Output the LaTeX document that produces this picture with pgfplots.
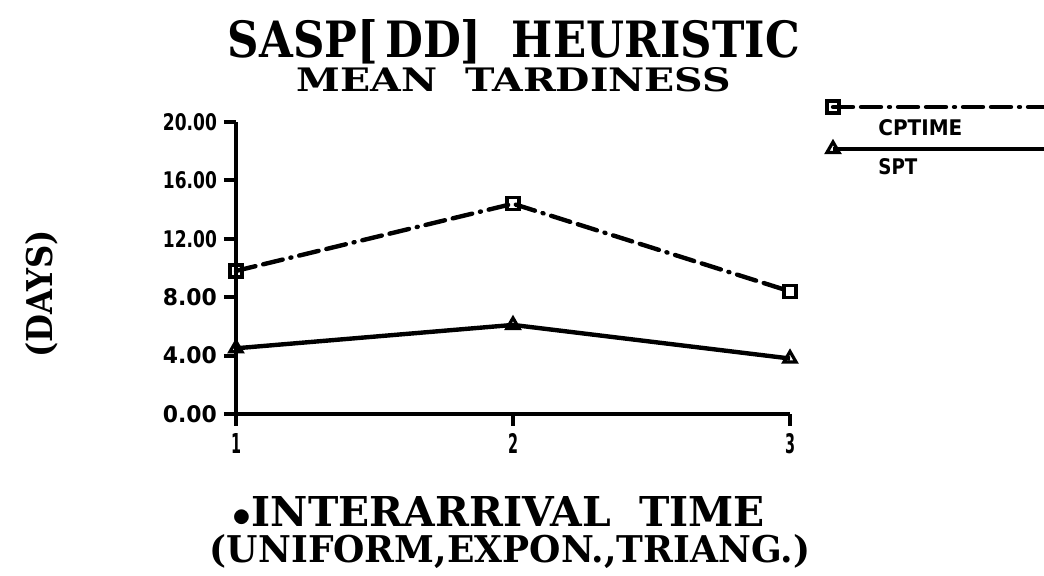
\documentclass[border=0pt]{standalone}
\usepackage{fontspec}
\usepackage{graphicx}
\usepackage{pgfplots}
\pgfplotsset{compat=1.18}
\setmainfont{DejaVu Serif}
\newfontfamily\heavysans{DejaVu Sans}
\newfontfamily\titleserif{DejaVu Serif}
\begin{document}
\begin{tikzpicture}[x=1pt,y=1pt]
\useasboundingbox (0,0) rectangle (522,288);
% titles
\node[anchor=base, inner sep=0] at (257,259) {\resizebox{286pt}{19pt}{\titleserif\bfseries SASP[\,DD]\ \ HEURISTIC}};
\node[anchor=base, inner sep=0] at (257,242) {\resizebox{217pt}{12pt}{\titleserif\bfseries MEAN\ \ TARDINESS}};
\node[anchor=base, inner sep=0] at (249.5,24.5) {\resizebox{266pt}{15pt}{\titleserif\bfseries {\small$\bullet$}INTERARRIVAL\ \ TIME}};
\node[anchor=base, inner sep=0] at (255,6.5) {\resizebox{300pt}{14pt}{\titleserif\bfseries (UNIFORM,EXPON.,TRIANG.)}};
\node[rotate=90, anchor=center, inner sep=0] at (21,141) {\resizebox{64pt}{13.5pt}{\titleserif\bfseries (DAYS)}};
\begin{axis}[
  at={(118pt,81pt)}, anchor=south west,
  scale only axis, width=277pt, height=146pt,
  xmin=1, xmax=3, ymin=0, ymax=20,
  axis lines=left, axis line style={line width=2pt, -},
  xtick={1,2,3}, ytick={0,4,8,12,16,20},
  tick align=outside, major tick length=6pt,
  tick style={line width=2pt, black},
  /pgf/number format/assume math mode=true,
  xticklabel={\resizebox{5pt}{10pt}{\heavysans\bfseries\pgfmathprintnumber{\tick}}},
  yticklabel={\resizebox{27pt}{8.5pt}{\heavysans\bfseries\pgfmathprintnumber[fixed,fixed zerofill,precision=2,assume math mode=true]{\tick}}},
  clip=false,
]
\addplot[black, line width=2.2pt, line cap=round, dash pattern=on 10pt off 4pt on 10pt off 4pt on 0.5pt off 4pt,
  mark=square, mark size=3pt, mark options={solid, line width=1.6pt, fill=white}]
  coordinates {(1,9.8) (2,14.4) (3,8.4)};
\addplot[black, line width=2.2pt,
  mark=triangle, mark size=3.5pt, mark options={solid, line width=1.6pt, fill=white}]
  coordinates {(1,4.5) (2,6.1) (3,3.8)};
\end{axis}
% legend
\begin{axis}[
  at={(416.5pt,213.5pt)}, anchor=south west,
  scale only axis, width=105.5pt, height=21pt,
  xmin=0, xmax=1, ymin=0, ymax=1, hide axis, clip=false,
]
\addplot[black, line width=2.2pt, line cap=round, dash pattern=on 10pt off 4pt on 10pt off 4pt on 0.5pt off 4pt,
  mark=square, mark size=3pt, mark indices={1}, mark options={solid, line width=1.6pt, fill=white}]
  coordinates {(0,1) (1,1)};
\addplot[black, line width=2.2pt,
  mark=triangle, mark size=3.5pt, mark indices={1}, mark options={solid, line width=1.6pt, fill=white}]
  coordinates {(0,0) (1,0)};
\node[anchor=west, inner sep=0] at (axis cs:0.213,0.5) {\resizebox{42pt}{8pt}{\heavysans\bfseries CPTIME}};
\node[anchor=west, inner sep=0] at (axis cs:0.213,-0.43) {\resizebox{19.5pt}{8pt}{\heavysans\bfseries SPT}};
\end{axis}
\end{tikzpicture}
\end{document}
